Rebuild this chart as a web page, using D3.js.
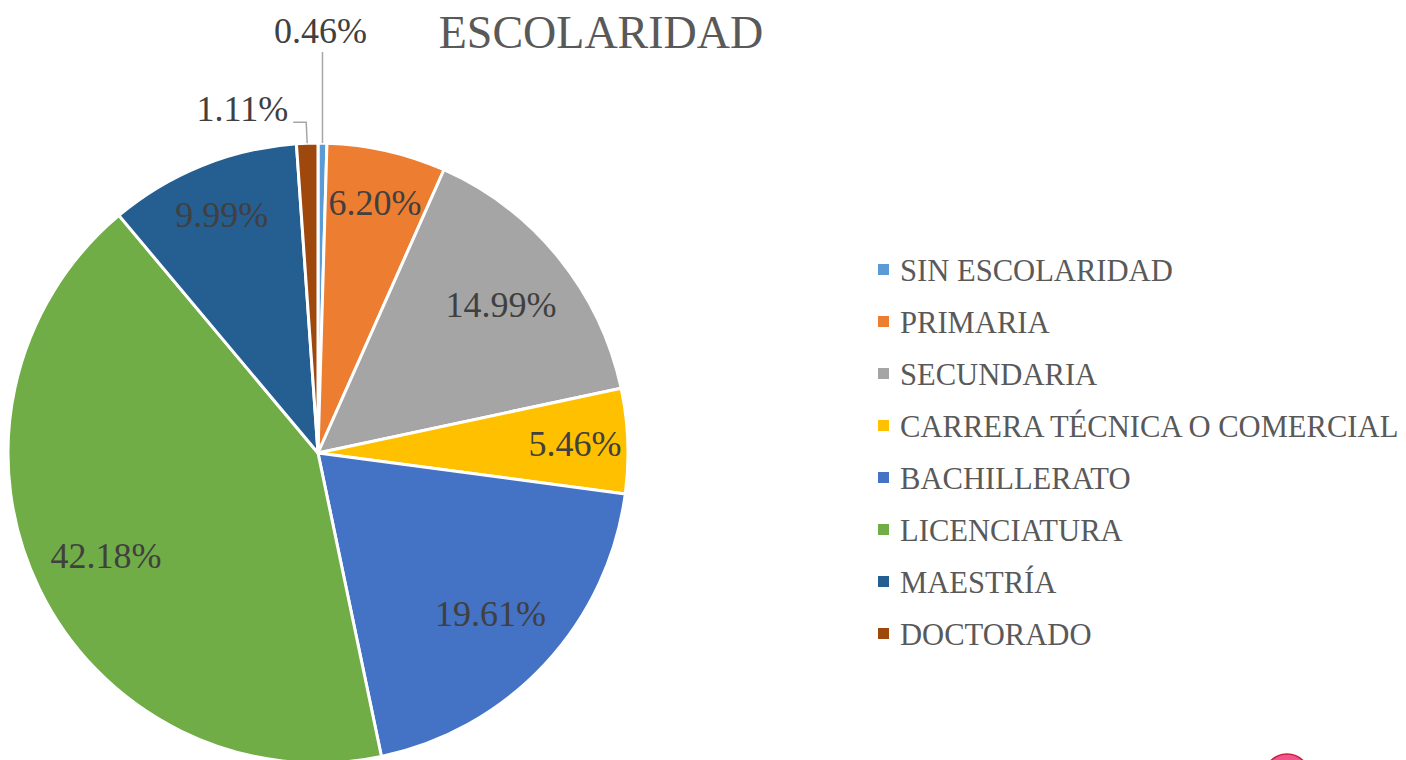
<!DOCTYPE html>
<html><head><meta charset="utf-8">
<script src="https://cdn.jsdelivr.net/npm/d3@7"></script>
<style>html,body{margin:0;padding:0;background:#fff;overflow:hidden}</style>
</head><body>
<svg id="c" width="1406" height="760"></svg>
<script>
const categories = ["SIN ESCOLARIDAD","PRIMARIA","SECUNDARIA","CARRERA TÉCNICA O COMERCIAL","BACHILLERATO","LICENCIATURA","MAESTRÍA","DOCTORADO"];
const values = [0.46, 6.20, 14.99, 5.46, 19.61, 42.18, 9.99, 1.11];
const colors = ["#5b9bd5","#ed7d31","#a5a5a5","#ffc000","#4472c4","#70ad47","#255e91","#9e480e"];
const title = "ESCOLARIDAD";

const FONT = "'Liberation Serif', 'Times New Roman', serif";
const svg = d3.select("#c");
const cx = 318, cy = 453, R = 310;

svg.append("text").attr("x", 601).attr("y", 48).attr("text-anchor","middle")
  .attr("font-family", FONT).attr("font-size", 46).attr("fill","#595959").text(title);

const pie = d3.pie().sort(null).value(d => d)(values);
const arc = d3.arc().innerRadius(0).outerRadius(R);
const g = svg.append("g").attr("transform", `translate(${cx},${cy})`);
g.selectAll("path").data(pie).join("path")
  .attr("d", arc).attr("fill", (d,i) => colors[i])
  .attr("stroke", "#fff").attr("stroke-width", 3).attr("stroke-linejoin","round");

const fmt = v => v.toFixed(2) + "%";
pie.forEach((d,i) => {
  const a = (d.startAngle + d.endAngle) / 2;
  const v = values[i];
  if (v < 2) {
    const px = R * Math.sin(a), py = -R * Math.cos(a);
    let pts, tx, ty, anchor;
    if (a < Math.PI) {
      pts = [[px, py], [px, py - 91]];
      tx = px - 2; ty = py - 100; anchor = "middle";
    } else {
      pts = [[px, py], [px - 1, py - 21], [px - 14, py - 21]];
      tx = px - 19; ty = py - 22; anchor = "end";
    }
    g.append("path").attr("d", d3.line()(pts)).attr("fill","none")
      .attr("stroke","#a6a6a6").attr("stroke-width",1.5);
    g.append("text").attr("x", tx).attr("y", ty).attr("text-anchor", anchor)
      .attr("font-family", FONT).attr("font-size", 36).attr("fill","#404040").text(fmt(v));
  } else {
    const lr = v < 12 ? R * 0.83 : R * 0.76;
    const x = lr * Math.sin(a), y = -lr * Math.cos(a);
    g.append("text").attr("x", x).attr("y", y).attr("dy","0.35em").attr("text-anchor","middle")
      .attr("font-family", FONT).attr("font-size", 36).attr("fill","#404040").text(fmt(v));
  }
});

const leg = svg.append("g").attr("transform","translate(878,270)");
const rows = leg.selectAll("g").data(categories).join("g")
  .attr("transform", (d,i) => `translate(0,${i*52})`);
rows.append("rect").attr("x",0).attr("y",-6).attr("width",11).attr("height",11)
  .attr("fill", (d,i) => colors[i]);
rows.append("text").attr("x",22).attr("y",10.5)
  .attr("font-family", FONT).attr("font-size", 30.6).attr("fill","#595959").text(d => d);

svg.append("circle").attr("cx",1287).attr("cy",777).attr("r",23)
  .attr("fill","#f2548c").attr("stroke","#c81e3c").attr("stroke-width",1.5);
</script>
</body></html>
